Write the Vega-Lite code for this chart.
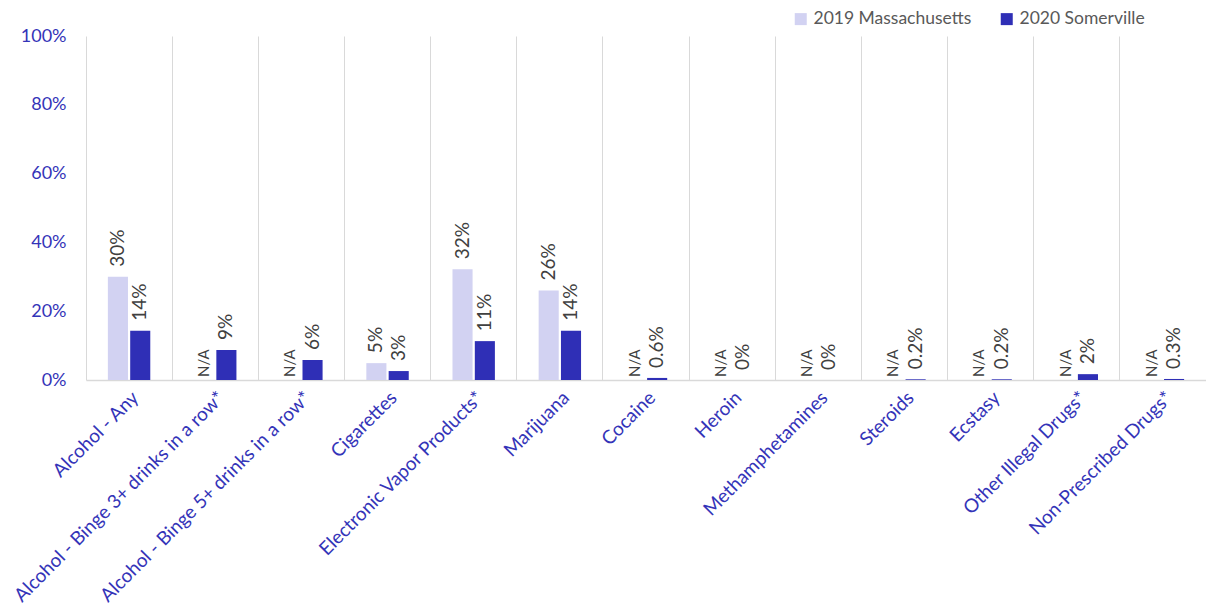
{
  "$schema": "https://vega.github.io/schema/vega-lite/v6.json",
  "width": 1120,
  "height": 344,
  "autosize": {"type": "none"},
  "padding": {"left": 86, "top": 36, "right": 0, "bottom": 236},
  "background": "white",
  "config": {
    "font": "Lato",
    "view": {"stroke": null}
  },
  "data": {
    "values": [
      {"category": "Alcohol - Any", "series": "2019 Massachusetts", "value": 0.30, "label": "30%"},
      {"category": "Alcohol - Any", "series": "2020 Somerville", "value": 0.143, "label": "14%"},
      {"category": "Alcohol - Binge 3+ drinks in a row*", "series": "2019 Massachusetts", "value": null, "label": "N/A"},
      {"category": "Alcohol - Binge 3+ drinks in a row*", "series": "2020 Somerville", "value": 0.087, "label": "9%"},
      {"category": "Alcohol - Binge 5+ drinks in a row*", "series": "2019 Massachusetts", "value": null, "label": "N/A"},
      {"category": "Alcohol - Binge 5+ drinks in a row*", "series": "2020 Somerville", "value": 0.058, "label": "6%"},
      {"category": "Cigarettes", "series": "2019 Massachusetts", "value": 0.049, "label": "5%"},
      {"category": "Cigarettes", "series": "2020 Somerville", "value": 0.026, "label": "3%"},
      {"category": "Electronic Vapor Products*", "series": "2019 Massachusetts", "value": 0.322, "label": "32%"},
      {"category": "Electronic Vapor Products*", "series": "2020 Somerville", "value": 0.113, "label": "11%"},
      {"category": "Marijuana", "series": "2019 Massachusetts", "value": 0.26, "label": "26%"},
      {"category": "Marijuana", "series": "2020 Somerville", "value": 0.143, "label": "14%"},
      {"category": "Cocaine", "series": "2019 Massachusetts", "value": null, "label": "N/A"},
      {"category": "Cocaine", "series": "2020 Somerville", "value": 0.006, "label": "0.6%"},
      {"category": "Heroin", "series": "2019 Massachusetts", "value": null, "label": "N/A"},
      {"category": "Heroin", "series": "2020 Somerville", "value": 0, "label": "0%"},
      {"category": "Methamphetamines", "series": "2019 Massachusetts", "value": null, "label": "N/A"},
      {"category": "Methamphetamines", "series": "2020 Somerville", "value": 0, "label": "0%"},
      {"category": "Steroids", "series": "2019 Massachusetts", "value": null, "label": "N/A"},
      {"category": "Steroids", "series": "2020 Somerville", "value": 0.002, "label": "0.2%"},
      {"category": "Ecstasy", "series": "2019 Massachusetts", "value": null, "label": "N/A"},
      {"category": "Ecstasy", "series": "2020 Somerville", "value": 0.002, "label": "0.2%"},
      {"category": "Other Illegal Drugs*", "series": "2019 Massachusetts", "value": null, "label": "N/A"},
      {"category": "Other Illegal Drugs*", "series": "2020 Somerville", "value": 0.017, "label": "2%"},
      {"category": "Non-Prescribed Drugs*", "series": "2019 Massachusetts", "value": null, "label": "N/A"},
      {"category": "Non-Prescribed Drugs*", "series": "2020 Somerville", "value": 0.003, "label": "0.3%"}
    ]
  },
  "transform": [
    {"calculate": "datum.value == null ? 0 : datum.value", "as": "pos"}
  ],
  "encoding": {
    "x": {
      "field": "category",
      "type": "nominal",
      "sort": null,
      "scale": {"paddingInner": 0, "paddingOuter": 0},
      "axis": {
        "title": null,
        "labelAngle": -45,
        "labelFontSize": 19,
        "labelColor": "#3434b8",
        "labelPadding": 8,
        "labelLimit": 400,
        "ticks": false,
        "domain": true,
        "domainColor": "#d9d9d9",
        "domainWidth": 1.5,
        "grid": true,
        "gridColor": "#d9d9d9",
        "gridWidth": 1,
        "bandPosition": 0
      }
    },
    "xOffset": {
      "field": "series",
      "type": "nominal",
      "scale": {"paddingInner": 0.1, "paddingOuter": 0.98}
    }
  },
  "layer": [
    {
      "mark": {"type": "bar"},
      "encoding": {
        "y": {
          "field": "value",
          "type": "quantitative",
          "scale": {"domain": [0, 1]},
          "axis": {
            "title": null,
            "format": ".0%",
            "values": [0, 0.2, 0.4, 0.6, 0.8, 1],
            "labelFontSize": 18,
            "labelColor": "#3434b8",
            "labelPadding": 20,
            "ticks": false,
            "domain": false,
            "grid": false
          }
        },
        "color": {
          "field": "series",
          "type": "nominal",
          "scale": {"domain": ["2019 Massachusetts", "2020 Somerville"], "range": ["#d2d2f2", "#2f2fb6"]},
          "legend": {
            "title": null,
            "orient": "none",
            "direction": "horizontal",
            "legendX": 706,
            "legendY": -26,
            "symbolType": "square",
            "symbolSize": 144,
            "symbolStrokeWidth": 0,
            "labelFontSize": 17.5,
            "labelColor": "#595959",
            "labelOffset": 4,
            "columnPadding": 26
          }
        }
      }
    },
    {
      "transform": [{"filter": "datum.label !== 'N/A'"}],
      "mark": {"type": "text", "angle": -90, "align": "left", "baseline": "middle", "dx": 10, "fontSize": 19, "color": "#404040"},
      "encoding": {
        "y": {"field": "pos", "type": "quantitative", "scale": {"domain": [0, 1]}},
        "text": {"field": "label"}
      }
    },
    {
      "transform": [{"filter": "datum.label === 'N/A'"}],
      "mark": {"type": "text", "angle": -90, "align": "left", "baseline": "middle", "dx": 3, "fontSize": 15, "color": "#404040"},
      "encoding": {
        "y": {"field": "pos", "type": "quantitative", "scale": {"domain": [0, 1]}},
        "text": {"field": "label"}
      }
    }
  ]
}
